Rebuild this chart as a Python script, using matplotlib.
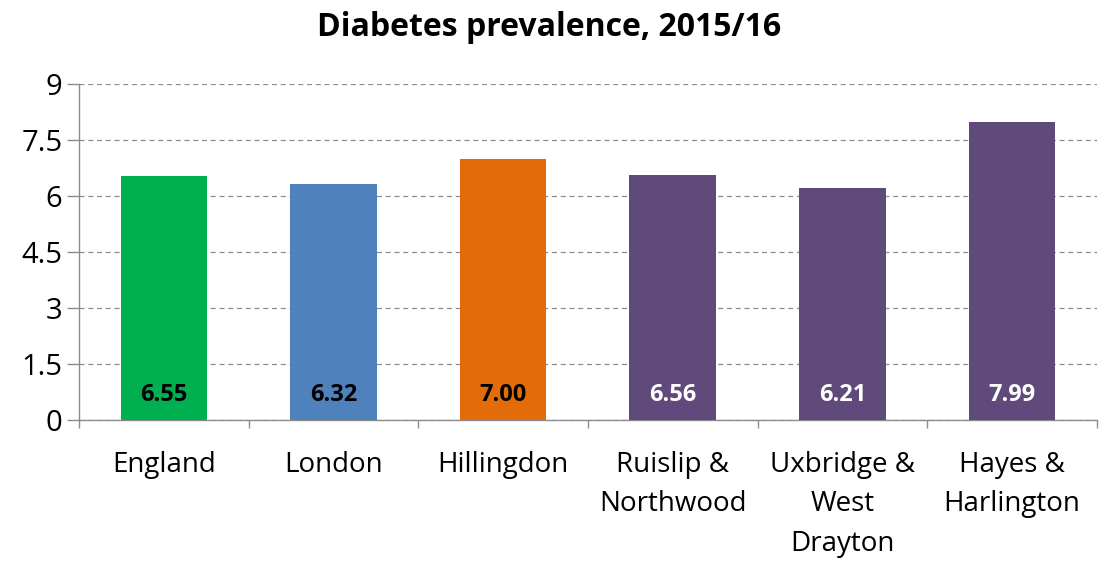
import numpy as np
import matplotlib.pyplot as plt

plt.rcParams['font.family'] = ['Open Sans', 'DejaVu Sans']

# data
areas = ['England', 'London', 'Hillingdon', 'Ruislip &\nNorthwood',
         'Uxbridge &\nWest\nDrayton', 'Hayes &\nHarlington']
prevalence = [6.55, 6.32, 7.00, 6.56, 6.21, 7.99]
bar_colors = ['#00B050', '#4F81BD', '#E36C09', '#604A7B', '#604A7B', '#604A7B']
label_colors = ['black', 'black', 'black', 'white', 'white', 'white']
yticks = [0, 1.5, 3, 4.5, 6, 7.5, 9]

fig = plt.figure(figsize=(10.99, 5.61), dpi=100)
ax = fig.add_axes([0.0719, 0.2513, 0.9261, 0.5987])

x = np.arange(len(areas))
ax.bar(x, prevalence, width=0.51, color=bar_colors, zorder=3)

for xi, v, c in zip(x, prevalence, label_colors):
    ax.text(xi, 0.68, f'{v:.2f}', ha='center', va='center',
            fontsize=17, fontweight='bold', color=c, zorder=4)

ax.set_xlim(-0.5, len(areas) - 0.5)
ax.set_ylim(0, 9)
ax.set_yticks(yticks)
ax.set_yticklabels([f'{t:g}' for t in yticks], fontsize=21)
ax.yaxis.grid(True, linestyle=(0, (4, 3)), color='#8c8c8c', linewidth=0.9, zorder=0)

# category ticks at boundaries, labels at centers
ax.set_xticks(np.arange(len(areas) + 1) - 0.5)
ax.set_xticklabels([])
ax.set_xticks(x, minor=True)
ax.set_xticklabels(areas, minor=True, fontsize=20, linespacing=1.55)
ax.tick_params(axis='x', which='major', length=6, color='#8c8c8c', width=1)
ax.tick_params(axis='x', which='minor', length=0, pad=22)
ax.tick_params(axis='y', length=9, color='#8c8c8c', width=1, pad=3)

for s in ['top', 'right']:
    ax.spines[s].set_visible(False)
for s in ['left', 'bottom']:
    ax.spines[s].set_color('#8c8c8c')
    ax.spines[s].set_linewidth(1)

fig.suptitle('Diabetes prevalence, 2015/16', fontsize=23, fontweight='bold', y=0.98)

fig.savefig('out.png', dpi=100)
